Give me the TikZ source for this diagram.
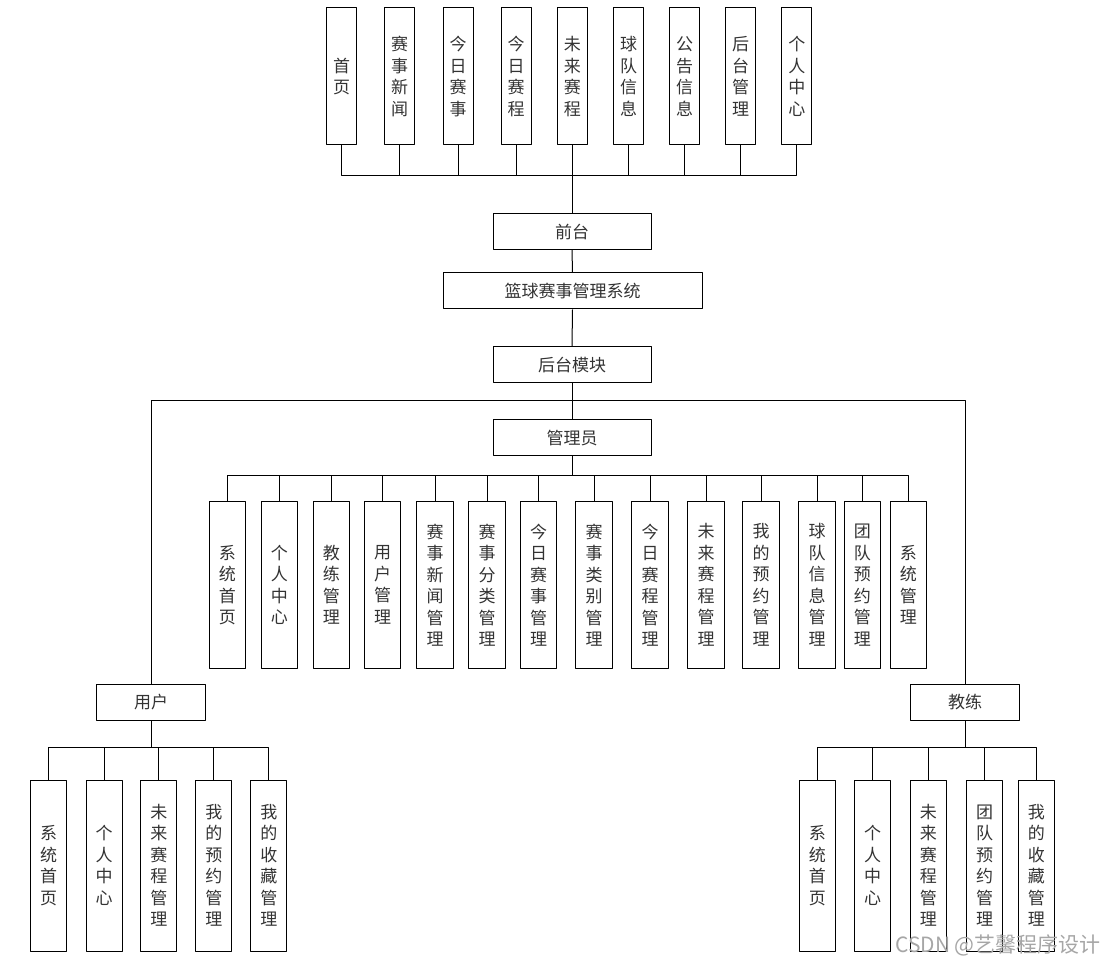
\documentclass[tikz,border=0pt]{standalone}
\usepackage{fontspec}
\setmainfont{Noto Sans CJK SC}
\usetikzlibrary{positioning}

\begin{document}
\begin{tikzpicture}[x=1pt, y=-1pt, line join=round, line width=1pt,
    every node/.style={font=\fontsize{17}{21.5}\selectfont, text=black!80, align=center, inner sep=0pt},
    hbox/.style={draw=black, minimum height=36pt},
    tbox/.style={draw=black, minimum width=30pt, minimum height=137pt},
    abox/.style={draw=black, minimum width=36.5pt, minimum height=166pt},
    ubox/.style={draw=black, minimum width=36pt, minimum height=171pt}]
  \useasboundingbox (0,0) rectangle (1109,965);

  \node[hbox, minimum width=158pt] (qt) at (572,231.5) {前台};
  \node[hbox, minimum width=259pt] (sys) at (572.5,291) {篮球赛事管理系统};
  \node[hbox, minimum width=158pt] (ht) at (572,365) {后台模块};
  \node[hbox, minimum width=158pt] (gly) at (572,438) {管理员};
  \node[hbox, minimum width=109pt] (yh) at (151,702.5) {用户};
  \node[hbox, minimum width=109pt] (jl) at (965,702.5) {教练};

  \coordinate (topbar) at (572,176);
  \coordinate (split) at (572,400.5);
  \coordinate (admbar) at (572,476);
  \coordinate (yhbar) at (151,747);
  \coordinate (jlbar) at (965,747);

  \foreach \x/\t [count=\i] in {341.5/{首\\页}, 399.5/{赛\\事\\新\\闻}, 458/{今\\日\\赛\\事},
      516/{今\\日\\赛\\程}, 572.3/{未\\来\\赛\\程}, 628.5/{球\\队\\信\\息},
      684.5/{公\\告\\信\\息}, 740.5/{后\\台\\管\\理}, 796.8/{个\\人\\中\\心}} {
    \node[tbox] (t\i) at (\x,76.5) {\t};
    \draw (t\i.south) |- (topbar);
  }
  \draw (topbar) -- (qt.north);
  \draw (qt.south) -- (sys.north);
  \draw (sys.south) -- (ht.north);
  \draw (ht.south) -- (gly.north);
  \draw (yh.north) |- (split) -| (jl.north);

  \draw (gly.south) -- (admbar);
  \foreach \x/\t [count=\i] in {227.3/{系\\统\\首\\页}, 279.3/{个\\人\\中\\心}, 331.3/{教\\练\\管\\理},
      382.5/{用\\户\\管\\理}, 435/{赛\\事\\新\\闻\\管\\理}, 487/{赛\\事\\分\\类\\管\\理},
      538.5/{今\\日\\赛\\事\\管\\理}, 594/{赛\\事\\类\\别\\管\\理}, 650/{今\\日\\赛\\程\\管\\理},
      706/{未\\来\\赛\\程\\管\\理}, 761/{我\\的\\预\\约\\管\\理}, 817/{球\\队\\信\\息\\管\\理},
      862.3/{团\\队\\预\\约\\管\\理}, 908.3/{系\\统\\管\\理}} {
    \node[abox] (a\i) at (\x,585) {\t};
    \draw (admbar) -| (a\i.north);
  }

  \draw (yh.south) -- (yhbar);
  \foreach \x/\t [count=\i] in {48.7/{系\\统\\首\\页}, 104.2/{个\\人\\中\\心}, 158.8/{未\\来\\赛\\程\\管\\理},
      213.8/{我\\的\\预\\约\\管\\理}, 268.8/{我\\的\\收\\藏\\管\\理}} {
    \node[ubox] (u\i) at (\x,865.5) {\t};
    \draw (yhbar) -| (u\i.north);
  }

  \draw (jl.south) -- (jlbar);
  \foreach \x/\t [count=\i] in {817.3/{系\\统\\首\\页}, 872.7/{个\\人\\中\\心}, 928.3/{未\\来\\赛\\程\\管\\理},
      984.5/{团\\队\\预\\约\\管\\理}, 1036.3/{我\\的\\收\\藏\\管\\理}} {
    \node[ubox] (c\i) at (\x,865.5) {\t};
    \draw (jlbar) -| (c\i.north);
  }

  \node[font=\fontsize{21}{23}\selectfont, text=black!35] (wm) at (998,945) {CSDN @艺馨程序设计};
\end{tikzpicture}
\end{document}
